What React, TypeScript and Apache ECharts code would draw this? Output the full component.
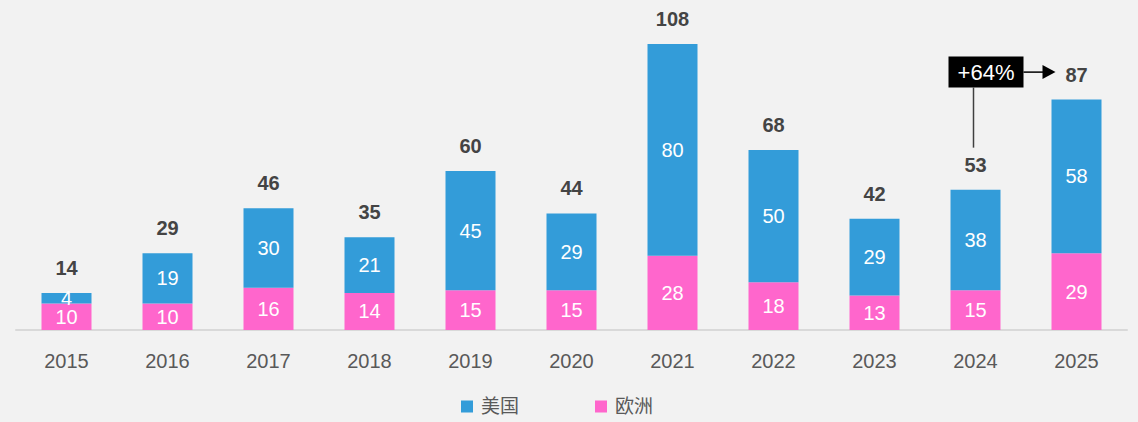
import React, { useEffect, useRef } from "react";
import * as echarts from "echarts";

const years = ["2015", "2016", "2017", "2018", "2019", "2020", "2021", "2022", "2023", "2024", "2025"];
const usa = [4, 19, 30, 21, 45, 29, 80, 50, 29, 38, 58];
const europe = [10, 10, 16, 14, 15, 15, 28, 18, 13, 15, 29];
const totals = [14, 29, 46, 35, 60, 44, 108, 68, 42, 53, 87];
const growthLabel = "+64%";

const FONT = "'Helvetica Neue', Helvetica, 'Liberation Sans', Arial, 'Noto Sans CJK SC', sans-serif";

export default function App() {
  const ref = useRef<HTMLDivElement>(null);
  useEffect(() => {
    document.body.style.margin = "0";
    const chart = echarts.init(ref.current!, null, { renderer: "svg" });
    chart.setOption({
      animation: false,
      backgroundColor: "#f2f2f2",
      textStyle: { fontFamily: FONT },
      grid: { left: 16, right: 11, top: 44, bottom: 92 },
      legend: {
        bottom: 1,
        left: 456,
        itemWidth: 12,
        itemHeight: 12,
        itemGap: 76,
        icon: "rect",
        textStyle: { fontSize: 19, color: "#595959", fontFamily: FONT, padding: [0, 0, 0, 3] },
        data: ["美国", "欧洲"],
      },
      xAxis: {
        type: "category",
        data: years,
        axisTick: { show: false },
        axisLine: { lineStyle: { color: "#d9d9d9", width: 2 } },
        axisLabel: { fontSize: 20, color: "#595959", margin: 21 },
      },
      yAxis: { type: "value", min: 0, max: 108, show: false, splitLine: { show: false } },
      series: [
        {
          name: "欧洲",
          type: "bar",
          stack: "t",
          data: europe,
          barWidth: 50,
          itemStyle: { color: "#ff66cc" },
          label: { show: true, position: "inside", color: "#fff", fontSize: 20 },
        },
        {
          name: "美国",
          type: "bar",
          stack: "t",
          data: usa,
          barWidth: 50,
          itemStyle: { color: "#339cd9" },
          label: { show: true, position: "inside", color: "#fff", fontSize: 20 },
        },
        {
          name: "total",
          type: "bar",
          stack: "t",
          data: totals.map(() => 0),
          barWidth: 50,
          itemStyle: { color: "transparent" },
          label: {
            show: true,
            position: "top",
            distance: 15,
            color: "#444",
            fontSize: 20,
            fontWeight: "bold",
            formatter: (p: any) => String(totals[p.dataIndex]),
          },
          tooltip: { show: false },
        },
      ],
    });
    const a = chart.convertToPixel({ gridIndex: 0 }, [years[9], totals[9]]) as number[];
    const b = chart.convertToPixel({ gridIndex: 0 }, [years[10], totals[10]]) as number[];
    const boxW = 75, boxH = 31;
    const boxX = a[0] - 27;
    const boxY = b[1] - 43;
    const midY = boxY + boxH / 2;
    chart.setOption({
      graphic: [
        {
          type: "line",
          shape: { x1: a[0] - 2, y1: boxY + boxH, x2: a[0] - 2, y2: a[1] - 42 },
          style: { stroke: "#404040", lineWidth: 1.5 },
        },
        {
          type: "line",
          shape: { x1: boxX + boxW, y1: midY, x2: b[0] - 30, y2: midY },
          style: { stroke: "#000", lineWidth: 1.5 },
        },
        {
          type: "polygon",
          shape: { points: [[b[0] - 34, midY - 7], [b[0] - 21, midY], [b[0] - 34, midY + 7]] },
          style: { fill: "#000" },
        },
        {
          type: "rect",
          shape: { x: boxX, y: boxY, width: boxW, height: boxH },
          style: { fill: "#000" },
        },
        {
          type: "text",
          x: boxX + boxW / 2,
          y: midY,
          style: {
            text: growthLabel,
            fill: "#fff",
            fontSize: 22,
            fontFamily: FONT,
            align: "center",
            verticalAlign: "middle",
          },
        },
      ],
    });
    return () => chart.dispose();
  }, []);
  return <div ref={ref} style={{ width: 1138, height: 422 }} />;
}
